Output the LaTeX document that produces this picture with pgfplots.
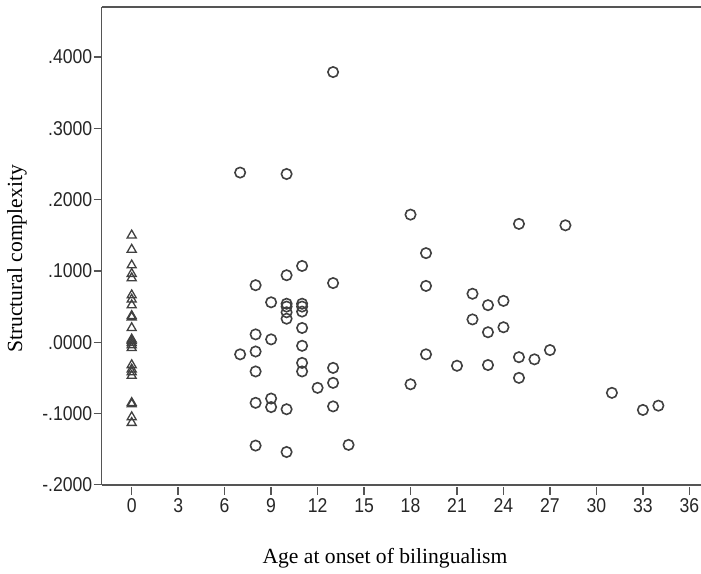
\documentclass[border=0pt]{standalone}
\usepackage{pgfplots}
\pgfplotsset{compat=1.18}
\usepackage{fontspec}
\setmainfont{Liberation Serif}
\newfontfamily\tickfont[FakeStretch=0.88]{Liberation Sans}
\definecolor{axisgray}{HTML}{555555}
\definecolor{markgray}{HTML}{404040}

\begin{document}
\begin{tikzpicture}
\begin{axis}[
    scale only axis,
    width=301.6pt, height=238.8pt,
    xmin=-1.94, xmax=37,
    ymin=-0.2, ymax=0.47,
    axis x line*=box, axis y line*=left,
    axis line style={axisgray, line width=0.85pt},
    xtick={0,3,...,36},
    xticklabels={0,3,6,9,12,15,18,21,24,27,30,33,36},
    xtick pos=left,
    ytick={-0.2,-0.1,0,0.1,0.2,0.3,0.4},
    yticklabels={-.2000,-.1000,.0000,.1000,.2000,.3000,.4000},
    tick align=outside,
    major tick length=4pt,
    tick style={axisgray, line width=0.7pt},
    x tick style={yshift=-1pt},
    ticklabel style={font=\tickfont\fontsize{10}{11}\selectfont, text=black!85},
    x tick label style={inner sep=1pt, yshift=-1.5pt, text height=7.2pt, text depth=0pt},
    y tick label style={inner sep=0.5pt},
    clip=false,
]
% age 0 (monolinguals)
\addplot[only marks, mark=triangle, mark size=2.6pt, markgray, line width=0.65pt]
coordinates {
(0,0.150) (0,0.130) (0,0.108) (0,0.096) (0,0.090) (0,0.066) (0,0.060) (0,0.052)
(0,0.037) (0,0.035) (0,0.020) (0,0.004) (0,0.002) (0,-0.001) (0,-0.004) (0,-0.008)
(0,-0.032) (0,-0.038) (0,-0.042) (0,-0.047) (0,-0.085) (0,-0.087) (0,-0.105) (0,-0.113)
};
% bilinguals
\addplot[only marks, mark=o, mark size=2.6pt, markgray, line width=0.8pt]
coordinates {
(7,0.238) (10,0.236) (13,0.379) (8,0.080) (10,0.094) (11,0.107) (13,0.083)
(9,0.056) (10,0.054) (10,0.050) (10,0.042) (10,0.033) (11,0.054) (11,0.050)
(11,0.043) (11,0.020) (8,0.011) (9,0.004) (11,-0.005) (7,-0.017) (8,-0.013)
(11,-0.029) (13,-0.036) (11,-0.041) (8,-0.041) (13,-0.057) (12,-0.064)
(8,-0.085) (9,-0.079) (9,-0.091) (10,-0.094) (13,-0.090) (8,-0.145)
(10,-0.154) (14,-0.144)
(18,0.179) (25,0.166) (28,0.164) (19,0.125) (19,0.079) (22,0.068) (23,0.052)
(24,0.058) (22,0.032) (23,0.014) (24,0.021) (19,-0.017) (21,-0.033)
(23,-0.032) (25,-0.021) (26,-0.024) (27,-0.011) (18,-0.059) (25,-0.050)
(31,-0.071) (33,-0.095) (34,-0.089)
};
\node[anchor=base, font=\fontsize{10.8}{12}\selectfont] at (axis cs:16.35,-0.3109) {Age at onset of bilingualism};
\node[rotate=90, font=\fontsize{10.8}{12}\selectfont] at (axis cs:-7.405,0.1168) {Structural complexity};
\coordinate (bl) at (axis cs:-8.502,-0.3249);
\coordinate (tr) at (axis cs:36.752,0.4801);
\end{axis}
\pgfresetboundingbox
\path[use as bounding box] (bl) rectangle (tr);
\end{tikzpicture}
\end{document}
